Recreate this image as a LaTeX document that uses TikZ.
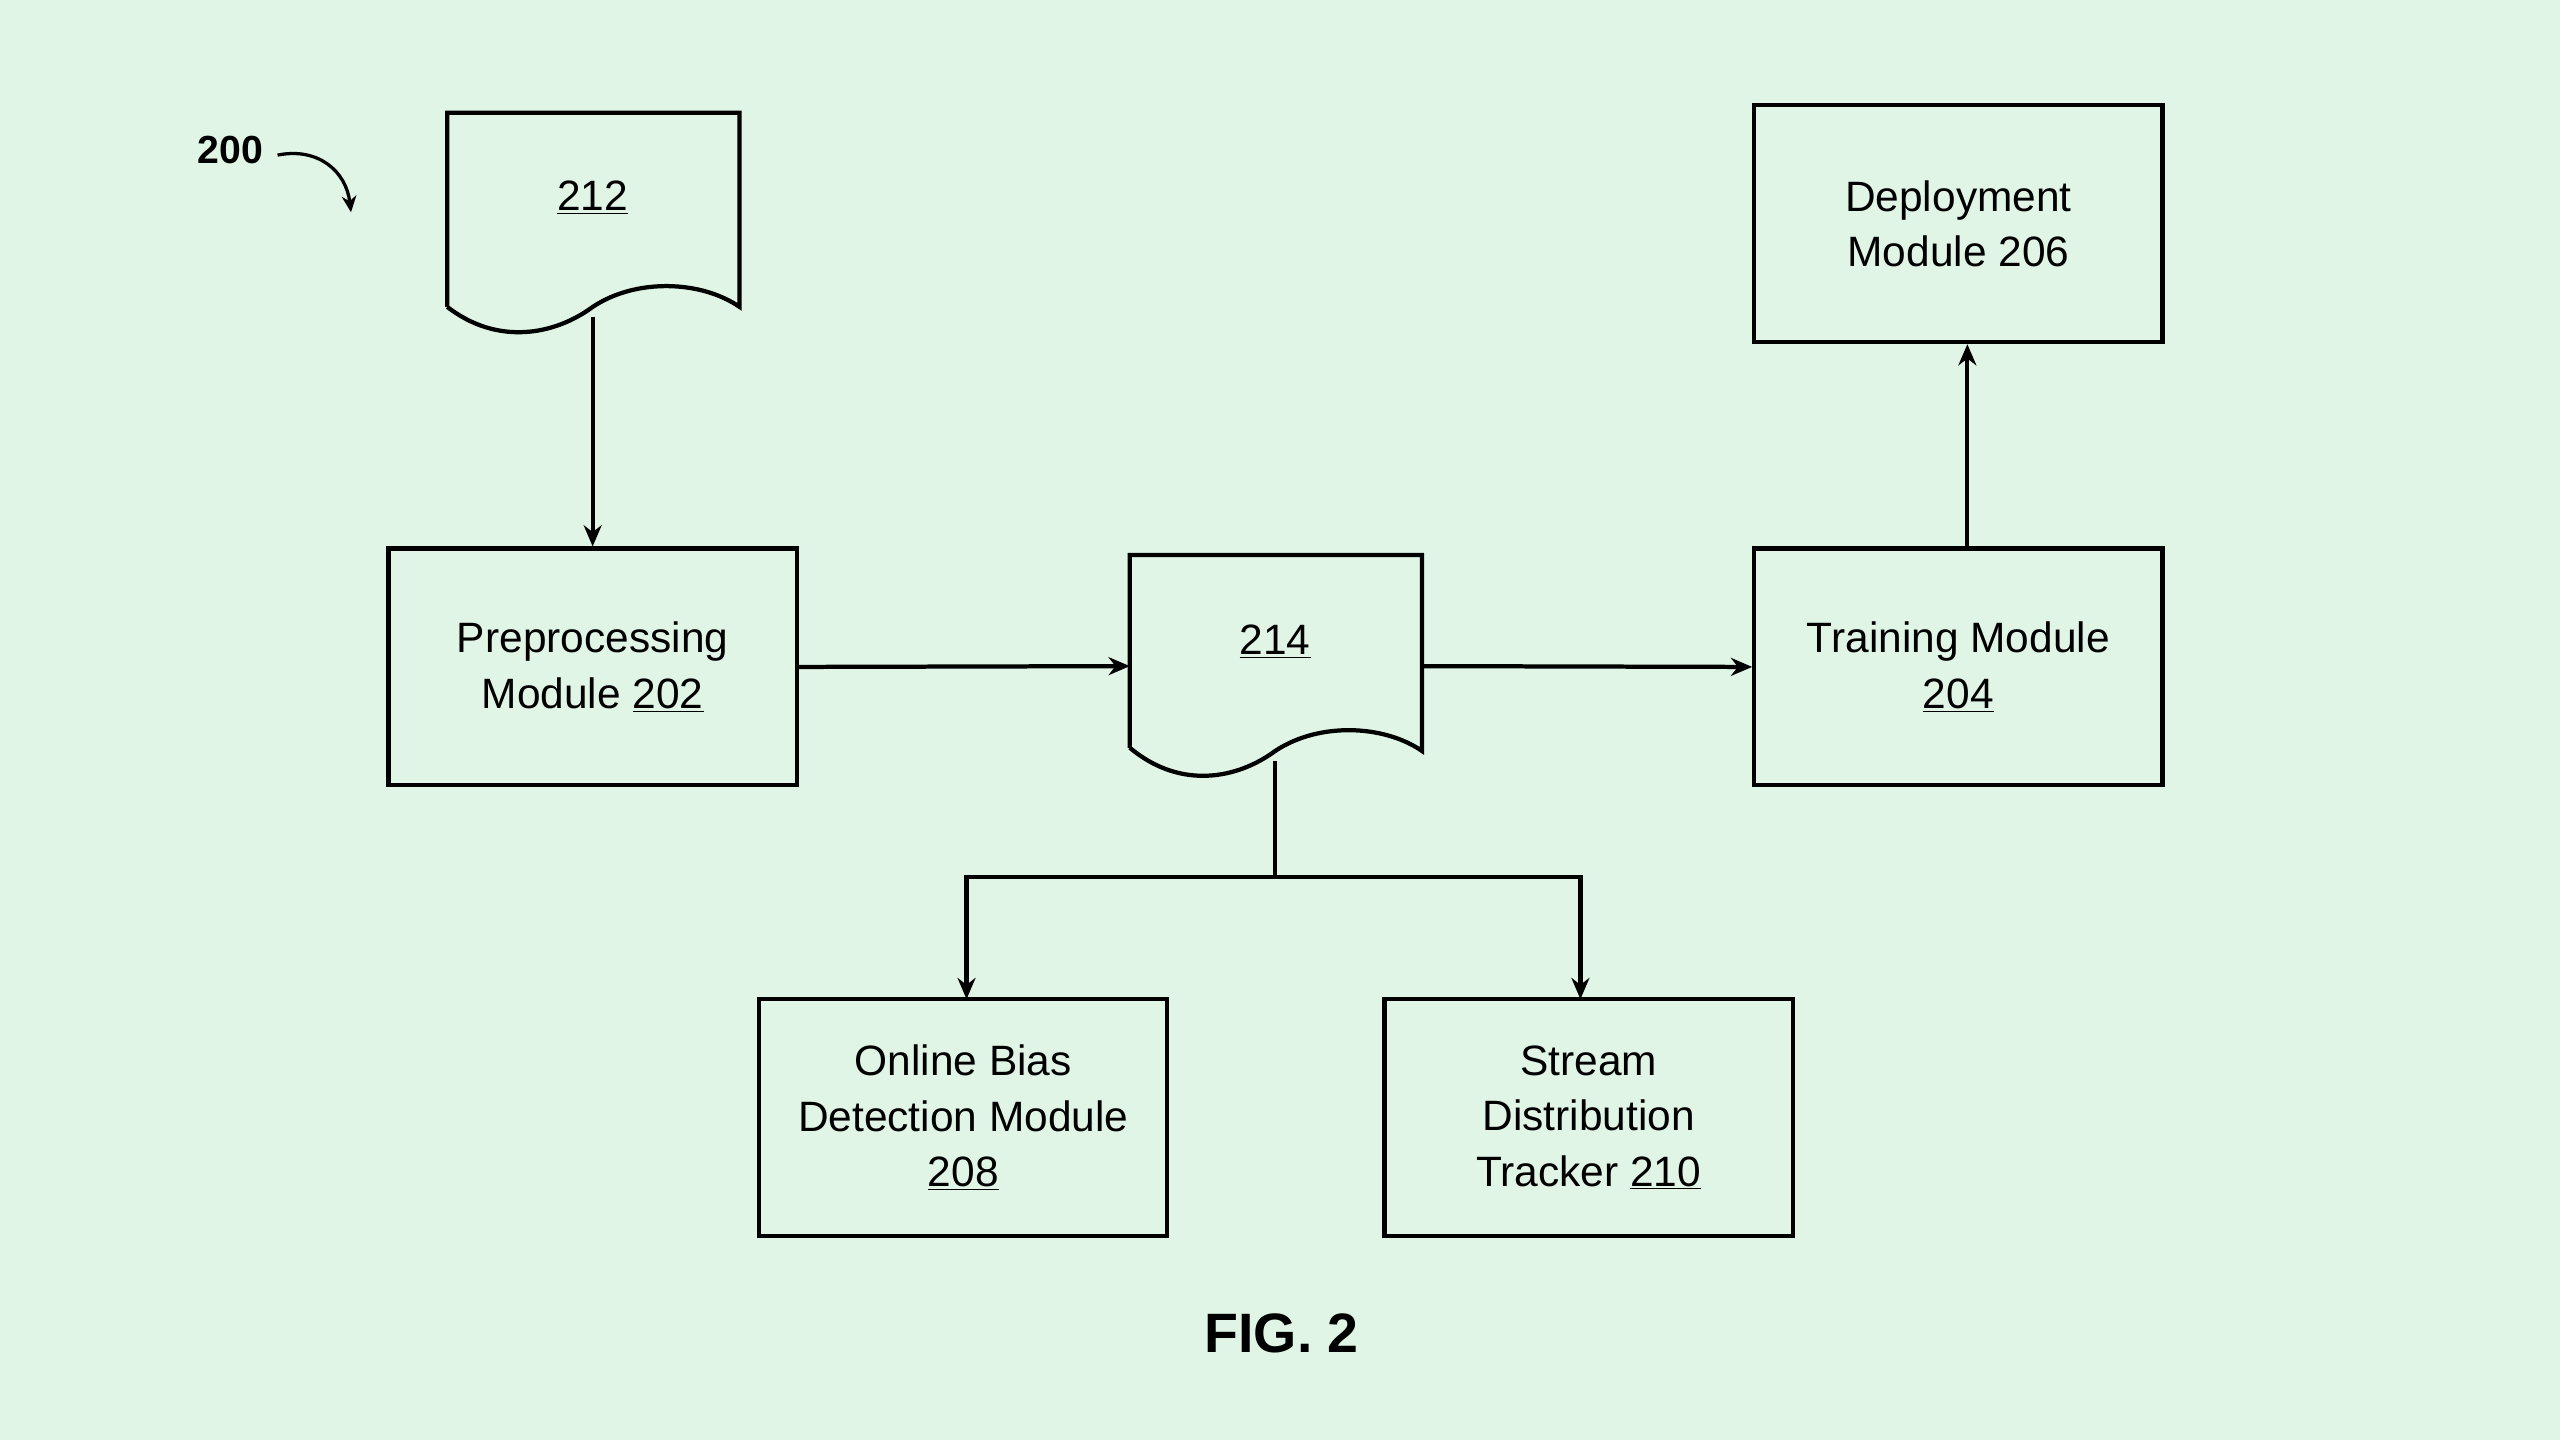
\documentclass[tikz,border=0pt]{standalone}
\usepackage{fontspec}
\setmainfont{Liberation Sans}
\usetikzlibrary{arrows.meta}
\begin{document}
\begin{tikzpicture}[x=1pt,y=-1pt,
  box/.style={draw,line width=2.6pt,minimum width=250pt,minimum height=145pt,align=center,font=\fontsize{26}{34}\selectfont,inner sep=0pt},
  line/.style={line width=2.6pt},
  arr/.style={line width=2.6pt,-{Stealth[length=13pt,width=11pt]}},
  lbl/.style={font=\fontsize{26}{34}\selectfont}]
\fill[fill={rgb,255:red,224;green,245;blue,230}] (0,0) rectangle (1568,882);
\useasboundingbox (0,0) rectangle (1568,882);
% doc 212
\draw[line,line join=miter] (274,188) -- (274,69) -- (453,69) -- (453,188) .. controls (430,172) and (390,170) .. (363,188) .. controls (340,205) and (305,212) .. (274,188);
\node[lbl] (d212) at (363,121) {\underline{212}};
\coordinate (d212b) at (363,194);
% doc 214
\draw[line,line join=miter] (692,458) -- (692,340) -- (871,340) -- (871,460) .. controls (848,444) and (808,442) .. (781,460) .. controls (758,477) and (723,484) .. (692,458);
\node[lbl] (d214) at (781,393) {\underline{214}};
\coordinate (d214l) at (692,408);
\coordinate (d214r) at (871,408);
\coordinate (d214b) at (781,466);
\coordinate (split) at (781,537);
\node[box] (pre) at (363,408.5) {Preprocessing\\Module \underline{202}};
\node[box] (train) at (1199.5,408.5) {Training Module\\\underline{204}};
\node[box] (dep) at (1199.5,137) {Deployment\\Module 206};
\node[box] (obd) at (590,684.5) {Online Bias\\Detection Module\\\underline{208}};
\node[box] (sdt) at (973,684.5) {Stream\\Distribution\\Tracker \underline{210}};
\draw[arr] (d212b) -- (pre.north);
\draw[arr] (pre.east) -- (d214l);
\draw[arr] (d214r) -- (train.west);
\draw[arr] (train.north -| 1205,0) -- (dep.south -| 1205,0);
\draw[line] (d214b) -- (split);
\draw[arr] (split) -| (592,612);
\draw[arr] (split) -| (968,612);
\node[font=\fontsize{24}{28}\selectfont\bfseries] (n200) at (141,92) {200};
\coordinate (a200) at (215,130);
\draw[line width=2pt,-{Stealth[length=10pt,width=9pt]}] (170,95) .. controls (195,90) and (212,105) .. (a200);
\node[font=\fontsize{34}{40}\selectfont\bfseries] (fig) at (785,817) {FIG. 2};
\end{tikzpicture}
\end{document}
